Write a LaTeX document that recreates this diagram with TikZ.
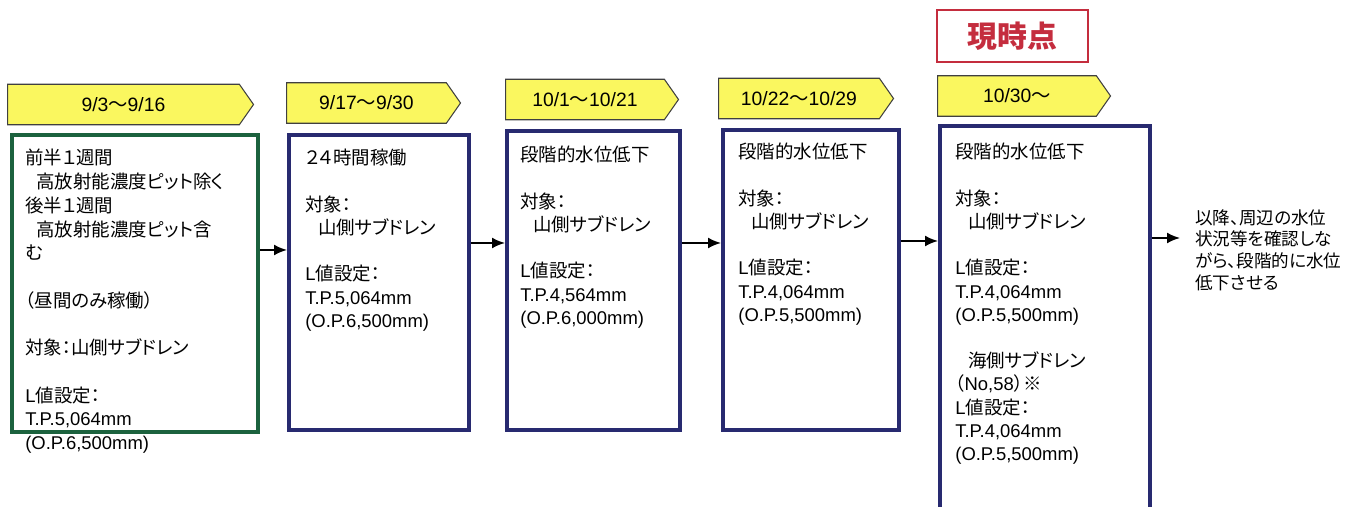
\documentclass[tikz,border=0pt]{standalone}
\usepackage{fontspec}
\setmainfont{Liberation Sans}
\newfontfamily\jp[RawFeature=+palt]{Noto Sans CJK JP}
\newfontfamily\en{Liberation Sans}
\usepackage{tikz}
\usetikzlibrary{arrows, arrows.meta, positioning, shapes.symbols}
\definecolor{tabyellow}{RGB}{250,247,95}
\definecolor{boxnavy}{RGB}{40,42,112}
\definecolor{boxgreen}{RGB}{28,98,62}
\definecolor{nowred}{RGB}{196,45,62}

\begin{document}
\begin{tikzpicture}
		\tikzstyle{Box} = [rectangle, draw=boxnavy, line width=2pt, anchor=north west, inner sep=0pt]
		\tikzstyle{GreenBox} = [Box, draw=boxgreen]
		\tikzstyle{Tab} = [signal, signal to=east, signal pointer angle=110, draw=black!75, fill=tabyellow, line width=0.6pt, minimum height=8.1mm, anchor=west, inner sep=0pt, font=\en\fontsize{11}{13}\selectfont]
		\tikzstyle{Text} = [anchor=north west, align=left, inner sep=0pt, font=\jp\fontsize{10.5}{13.2}\selectfont]
		\tikzstyle{NowBox} = [rectangle, draw=nowred, line width=1.2pt, anchor=south west, text=nowred, font=\jp\bfseries\fontsize{17}{20}\selectfont]
		\tikzstyle{arrow} = [line width=1.1pt, ->, >={Latex[length=2.6mm, width=2.2mm]}]

		\useasboundingbox (0,0) rectangle (27.24,-10.14);
		\clip (0,0) rectangle (27.24,-10.14);

		% boxes
		\node (b1) [GreenBox, minimum width=4.92cm, minimum height=5.94cm] at (0.20,-2.66) {};
		\node (b2) [Box, minimum width=3.60cm, minimum height=5.90cm] at (5.74,-2.66) {};
		\node (b3) [Box, minimum width=3.46cm, minimum height=5.98cm] at (10.10,-2.58) {};
		\node (b4) [Box, minimum width=3.52cm, minimum height=6.00cm] at (14.42,-2.56) {};
		\node (b5) [Box, minimum width=4.20cm, minimum height=8.20cm] at (18.76,-2.48) {};

		% date tabs
		\node (t1) [Tab, minimum width=4.92cm] at ([shift={(-0.06,0.57)}]b1.north west) {9/3{\jp ～}9/16};
		\node (t2) [Tab, minimum width=3.48cm] at ([shift={(-0.02,0.60)}]b2.north west) {9/17{\jp ～}9/30};
		\node (t3) [Tab, minimum width=3.46cm] at ([shift={(0,0.59)}]b3.north west) {10/1{\jp ～}10/21};
		\node (t4) [Tab, minimum width=3.50cm] at ([shift={(-0.06,0.59)}]b4.north west) {10/22{\jp ～}10/29};
		\node (t5) [Tab, minimum width=3.46cm] at ([shift={(-0.02,0.56)}]b5.north west) {10/30{\jp ～}};

		\node (now) [NowBox, minimum width=3.02cm, minimum height=1.04cm] at ([shift={(-0.04,1.22)}]b5.north west) {現時点};

		% box texts
		\node (x1) [Text, font=\jp\fontsize{10.5}{13.5}\selectfont] at ([shift={(0.30,-0.32)}]b1.north west) {前半１週間\\
			\hspace*{0.6em}高放射能濃度ピット除く\\
			後半１週間\\
			\hspace*{0.6em}高放射能濃度ピット含\\
			む\\[13.5pt]
			（昼間のみ稼働）\\[13.5pt]
			対象：山側サブドレン\\[13.5pt]
			{\en L}値設定：\\
			{\en T.P.5,064mm}\\
			{\en (O.P.6,500mm)}};
		\node (x2) [Text] at ([shift={(0.36,-0.32)}]b2.north west) {２４時間稼働\\[13.2pt]
			対象：\\
			\hspace*{0.7em}山側サブドレン\\[13.2pt]
			{\en L}値設定：\\
			{\en T.P.5,064mm}\\
			{\en (O.P.6,500mm)}};
		\node (x3) [Text] at ([shift={(0.30,-0.34)}]b3.north west) {段階的水位低下\\[13.2pt]
			対象：\\
			\hspace*{0.7em}山側サブドレン\\[13.2pt]
			{\en L}値設定：\\
			{\en T.P.4,564mm}\\
			{\en (O.P.6,000mm)}};
		\node (x4) [Text] at ([shift={(0.34,-0.30)}]b4.north west) {段階的水位低下\\[13.2pt]
			対象：\\
			\hspace*{0.7em}山側サブドレン\\[13.2pt]
			{\en L}値設定：\\
			{\en T.P.4,064mm}\\
			{\en (O.P.5,500mm)}};
		\node (x5) [Text] at ([shift={(0.34,-0.38)}]b5.north west) {段階的水位低下\\[13.2pt]
			対象：\\
			\hspace*{0.7em}山側サブドレン\\[13.2pt]
			{\en L}値設定：\\
			{\en T.P.4,064mm}\\
			{\en (O.P.5,500mm)}\\[13.2pt]
			\hspace*{0.7em}海側サブドレン\\
			（{\en No,58}）※\\
			{\en L}値設定：\\
			{\en T.P.4,064mm}\\
			{\en (O.P.5,500mm)}};

		\node (note) [anchor=north west, align=left, inner xsep=0.3cm, inner ysep=0pt, font=\jp\fontsize{10}{12.4}\selectfont] at (23.6,-4.18) {以降、周辺の水位\\状況等を確認しな\\がら、段階的に水位\\低下させる};

		% arrows
		\draw[arrow] (b1.east |- 0,-5.00) -- (b2.west |- 0,-5.00);
		\draw[arrow] (b2.east |- 0,-4.86) -- (b3.west |- 0,-4.86);
		\draw[arrow] (b3.east |- 0,-4.86) -- (b4.west |- 0,-4.86);
		\draw[arrow] (b4.east |- 0,-4.82) -- (b5.west |- 0,-4.82);
		\draw[arrow] (b5.east |- 0,-4.76) -- (note.west |- 0,-4.76);

		\end{tikzpicture}
\end{document}
